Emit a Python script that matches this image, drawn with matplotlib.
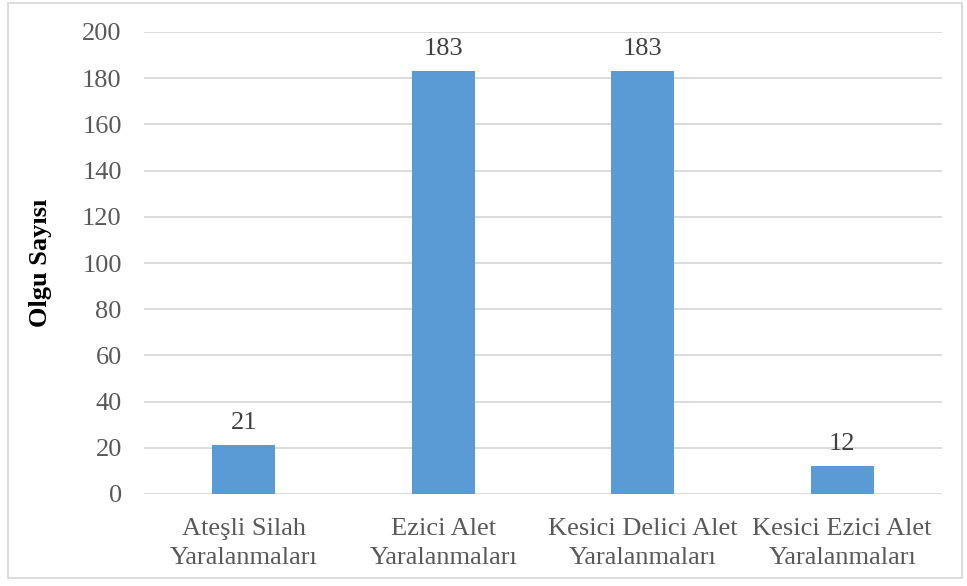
import matplotlib
matplotlib.use("Agg")
from matplotlib import pyplot as plt
from matplotlib.patches import Rectangle

categories = ["Ateşli Silah\nYaralanmaları", "Ezici Alet\nYaralanmaları",
              "Kesici Delici Alet\nYaralanmaları", "Kesici Ezici Alet\nYaralanmaları"]
values = [21, 183, 183, 12]
yticks = [0, 20, 40, 60, 80, 100, 120, 140, 160, 180, 200]

plt.rcParams['font.family'] = ['Liberation Serif', 'DejaVu Serif']
text_color = '#595959'

fig = plt.figure(figsize=(9.67, 5.86), dpi=100)
ax = fig.add_axes([144/967, 1 - 494/586, (942-144)/967, (494-32)/586])

x = range(len(categories))
bars = ax.bar(x, values, width=0.315, color='#5B9BD5', zorder=3)
for b, v in zip(bars, values):
    ax.text(b.get_x() + b.get_width()/2, v + 5, str(v), ha='center', va='bottom',
            fontsize=19, color='#404040')

ax.set_xlim(-0.5, len(categories) - 0.5)
ax.set_ylim(0, 200)
ax.set_yticks(yticks)
ax.set_xticks(list(x))
ax.set_xticklabels(categories, fontsize=19, color=text_color, linespacing=1.45)
ax.tick_params(axis='y', labelsize=19, labelcolor=text_color, length=0, pad=16)
ax.tick_params(axis='x', length=0, pad=17)
ax.grid(axis='y', color='#D9D9D9', linewidth=1.3, zorder=0)
for s in ax.spines.values():
    s.set_visible(False)
ax.set_ylabel("Olgu Sayısı", fontsize=19, fontweight='bold', color='black', labelpad=22)

fig.patches.append(Rectangle((8/967, 1 - 578/586), 954/967, 575/586, transform=fig.transFigure,
                             fill=False, edgecolor='#D9D9D9', linewidth=1.3))

fig.savefig("out.png", dpi=100)
